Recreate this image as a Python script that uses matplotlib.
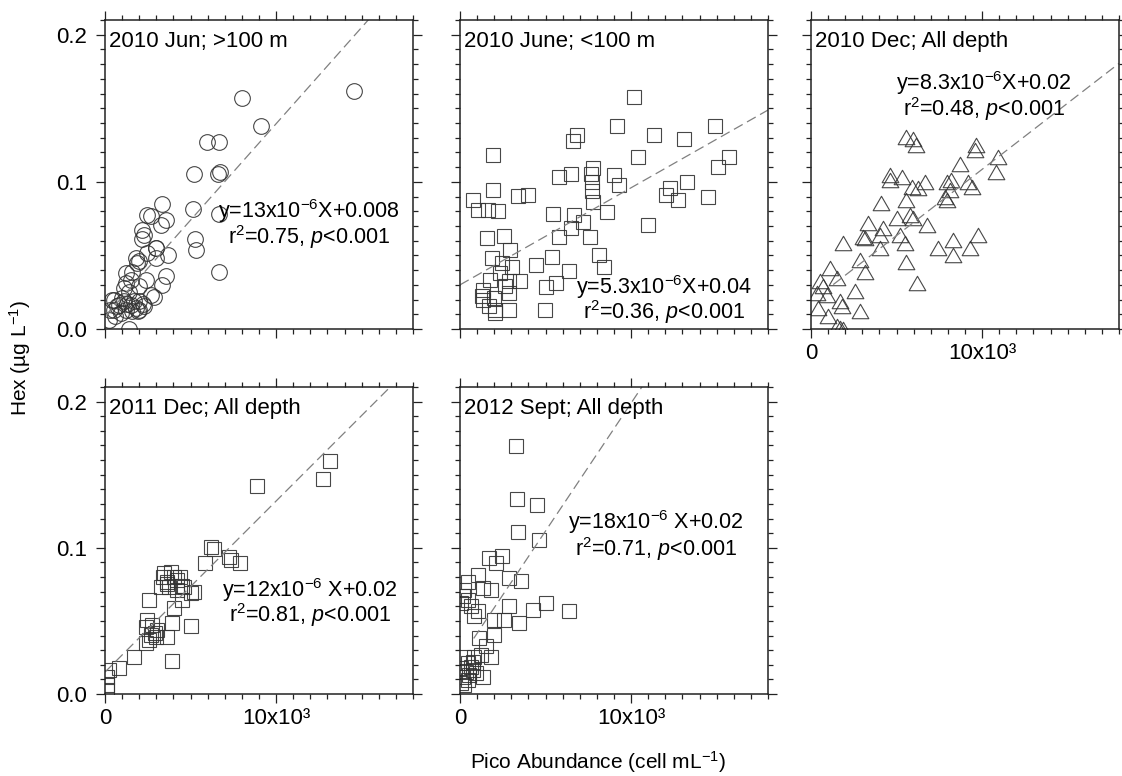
import matplotlib
matplotlib.use("Agg")
import matplotlib.pyplot as plt
from matplotlib.path import Path
from matplotlib.ticker import MultipleLocator, FixedLocator, FixedFormatter, NullFormatter

plt.rcParams["font.family"] = ["Liberation Sans", "DejaVu Sans"]
plt.rcParams["mathtext.fontset"] = "custom"
plt.rcParams["mathtext.rm"] = "Liberation Sans"
plt.rcParams["mathtext.it"] = "Liberation Sans:italic"
plt.rcParams["mathtext.default"] = "regular"
plt.rcParams["font.size"] = 16

# --- data (x: cells/mL, y: ug/L) ---
jun_deep_x = [14550, 7990, 9120, 5940, 6680, 5210, 6580, 6720, 5120, 6640, 5270, 5310, 6680,
              3360, 2680, 3550, 3260, 2190, 2190, 2970, 3710, 2480, 1800, 3550, 3360, 2680,
              1210, 1600, 1500, 2000, 1890, 1210, 430, 720, 1110, 1500, 1800, 2000, 2290,
              1210, 1600, 920, 530, 2000, 230, 1410, 2470, 2280, 3000, 2960, 1990, 2860, 530,
              800, 1300, 1700, 2200, 1000, 300, 600, 1900, 1400, 1100, 2400]
jun_deep_y = [0.1615, 0.157, 0.138, 0.127, 0.127, 0.1055, 0.1055, 0.107, 0.0815, 0.078, 0.061,
              0.054, 0.039, 0.085, 0.077, 0.074, 0.071, 0.0675, 0.061, 0.055, 0.0505, 0.0516,
              0.048, 0.0358, 0.030, 0.023, 0.038, 0.039, 0.0335, 0.029, 0.045, 0.031, 0.020,
              0.0154, 0.0188, 0.0165, 0.0143, 0.0188, 0.0154, 0.0131, 0.012, 0.0109, 0.013,
              0.013, 0.0063, 0.0, 0.0776, 0.064, 0.055, 0.0485, 0.046, 0.022, 0.0197,
              0.016, 0.017, 0.019, 0.017, 0.021, 0.013, 0.009, 0.012, 0.025, 0.028, 0.033]

jun_shallow_x = [10140, 9180, 6860, 6590, 11310, 13100, 14900, 15730, 15060, 10390, 1900, 9020,
                 9310, 7780, 7650, 6510, 5780, 7690, 7690, 7780, 12250, 12060, 12750, 13240,
                 14500, 10980, 8570, 5450, 6670, 7160, 6510, 5780, 7610, 8140, 8430, 5390, 6370,
                 5590, 5000, 4960, 4450, 780, 1040, 1630, 2200, 1900, 3390, 3960, 1570, 2590,
                 2940, 1860, 2450, 3040, 3530, 2840, 1730, 1370, 1270, 1960, 2840, 1370, 2060,
                 2060, 1670, 2840, 2650, 2310]
jun_shallow_y = [0.1576, 0.138, 0.132, 0.128, 0.132, 0.129, 0.1377, 0.117, 0.110, 0.117, 0.1185,
                 0.1045, 0.098, 0.1097, 0.1056, 0.1056, 0.103, 0.100, 0.094, 0.086, 0.0955, 0.091,
                 0.088, 0.100, 0.0898, 0.0707, 0.0797, 0.0779, 0.0774, 0.0725, 0.0684, 0.0628,
                 0.0628, 0.0503, 0.0424, 0.049, 0.0397, 0.031, 0.0284, 0.0131, 0.0436, 0.088,
                 0.0808, 0.0808, 0.080, 0.0948, 0.0903, 0.0914, 0.0616, 0.0634, 0.0537, 0.048,
                 0.0447, 0.0424, 0.0323, 0.0323, 0.0334, 0.0266, 0.0221, 0.021, 0.0244, 0.0199,
                 0.0131, 0.0108, 0.0153, 0.0131, 0.0289, 0.0379]

dec10_x = [5580, 5970, 6130, 9670, 9570, 10930, 10840, 8700, 4610, 4610, 5290, 6650, 5880, 6260,
           7920, 8210, 9180, 9380, 8110, 7820, 7920, 5580, 4120, 5000, 5780, 5970, 3350, 4220,
           6750, 3050, 3150, 4030, 5190, 5480, 1890, 4030, 7430, 8300, 8300, 9280, 9770, 5580,
           6170, 2860, 3150, 1110, 1500, 530, 720, 330, 910, 430, 2570, 1700, 1790, 2860, 1010,
           1500, 1700, 1890]
dec10_y = [0.1305, 0.129, 0.125, 0.125, 0.1214, 0.117, 0.1068, 0.1124, 0.1045, 0.101, 0.1034,
           0.100, 0.0966, 0.0955, 0.100, 0.101, 0.100, 0.0966, 0.0944, 0.0898, 0.0876, 0.0876,
           0.0853, 0.0752, 0.0774, 0.0752, 0.0718, 0.0684, 0.0707, 0.0628, 0.0616, 0.0639,
           0.0639, 0.0582, 0.0582, 0.0548, 0.0548, 0.0605, 0.0503, 0.0548, 0.0639, 0.0458,
           0.0312, 0.047, 0.039, 0.0413, 0.0345, 0.0323, 0.0289, 0.0244, 0.0233, 0.0142,
           0.0255, 0.0187, 0.0153, 0.012, 0.0086, 0.0018, 0.0007, 0.0]

dec11_x = [13140, 12750, 8870, 6180, 6370, 5830, 7250, 7350, 7880, 3840, 3450, 4030, 4230, 3650,
           3260, 3740, 4230, 4620, 5200, 5000, 4520, 4030, 2570, 3940, 5000, 2480, 2770, 3060,
           2670, 2960, 3650, 2380, 1700, 820, 230, 140, 140, 100, 3900,
           2400, 2900, 2600, 3600, 4500, 4400, 3400]
dec11_y = [0.1595, 0.1474, 0.1421, 0.1007, 0.0995, 0.0893, 0.0938, 0.0916, 0.0897, 0.0836,
           0.0825, 0.0802, 0.0779, 0.0768, 0.0733, 0.0733, 0.0711, 0.0733, 0.0699, 0.0688,
           0.0642, 0.0585, 0.0642, 0.0483, 0.0465, 0.0506, 0.0472, 0.0437, 0.0403, 0.0392,
           0.0392, 0.0346, 0.0255, 0.0175, 0.0164, 0.0118, 0.0062, 0.0027, 0.0228,
           0.046, 0.0415, 0.037, 0.075, 0.074, 0.080, 0.080]

sep12_x = [3270, 3330, 4500, 3410, 4640, 1720, 2440, 2110, 1030, 2880, 3570, 450, 1330, 1810,
           2880, 4250, 5030, 6350, 3470, 2590, 2000, 1030, 640, 250, 160, 60, 450, 840, 2000,
           1520, 1130, 1810, 1230, 940, 1330, 450, 250, 450, 60, 350, 640, 740, 160, 550, 60,
           840, 250, 740]
sep12_y = [0.1698, 0.1332, 0.129, 0.1108, 0.1053, 0.0931, 0.0947, 0.0897, 0.0817, 0.0794,
           0.0776, 0.0764, 0.0725, 0.0714, 0.060, 0.0577, 0.0622, 0.0565, 0.0485, 0.0508,
           0.0508, 0.0565, 0.060, 0.0714, 0.0668, 0.0622, 0.0645, 0.0531, 0.0405, 0.0325,
           0.0382, 0.0256, 0.0268, 0.0142, 0.0119, 0.0096, 0.0256, 0.021, 0.0176, 0.0153,
           0.0188, 0.0222, 0.0119, 0.013, 0.0073, 0.0256, 0.0062, 0.0165]

titles = ["2010 Jun; >100 m", "2010 June; <100 m", "2010 Dec; All depth",
          "2011 Dec; All depth", "2012 Sept; All depth"]
eq_text = [r"y=13x10$^{-6}$X+0.008", r"y=5.3x10$^{-6}$X+0.04", r"y=8.3x10$^{-6}$X+0.02",
           r"y=12x10$^{-6}$ X+0.02", r"y=18x10$^{-6}$ X+0.02"]
r2_text = [r"r$^2$=0.75, $\mathit{p}$<0.001", r"r$^2$=0.36, $\mathit{p}$<0.001",
           r"r$^2$=0.48, $\mathit{p}$<0.001", r"r$^2$=0.81, $\mathit{p}$<0.001",
           r"r$^2$=0.71, $\mathit{p}$<0.001"]

# fitted lines as drawn in the picture
fit_slope = [13.1e-6, 6.6e-6, 9.0e-6, 11.7e-6, 17.5e-6]
fit_icpt = [0.0085, 0.030, 0.0185, 0.015, 0.024]
fit_start = [0, 0, 1300, 0, 800]

xs = [jun_deep_x, jun_shallow_x, dec10_x, dec11_x, sep12_x]
ys = [jun_deep_y, jun_shallow_y, dec10_y, dec11_y, sep12_y]

tri = Path([(-1, -0.866), (1, -0.866), (0, 0.866), (-1, -0.866)],
           [Path.MOVETO, Path.LINETO, Path.LINETO, Path.CLOSEPOLY])
markers = [("o", 11.3), ("s", 10.3), (tri, 12), ("s", 10.3), ("s", 10.3)]

# layout (pixels of a 1122x776 canvas)
W, H = 1122, 776
lefts = [105, 460, 811, 105, 460]
tops = [20, 20, 20, 387, 387]
bottoms = [329, 329, 329, 694, 694]
eq_pos = [(0.662, 0.0754, 0.0578), (0.662, 0.0240, 0.0068), (0.561, 0.1625, 0.1450),
          (0.666, 0.0665, 0.0490), (0.636, 0.1126, 0.0943)]
show_xlab = [False, False, True, True, True]
show_ylab = [True, False, False, True, False]

fig = plt.figure(figsize=(11.22, 7.76), dpi=100)

for i in range(5):
    ax = fig.add_axes([lefts[i] / W, 1 - bottoms[i] / H, 308 / W, (bottoms[i] - tops[i]) / H])
    mk, ms = markers[i]
    ax.plot(xs[i], ys[i], linestyle="none", marker=mk, markersize=ms,
            markerfacecolor="none", markeredgecolor="#333333", markeredgewidth=0.8, alpha=0.9)
    lx = [fit_start[i], 18000]
    ly = [fit_icpt[i] + fit_slope[i] * v for v in lx]
    ax.plot(lx, ly, color="#808080", linewidth=0.9, dashes=[8, 4])

    ax.set_xlim(0, 18000)
    ax.set_ylim(0, 0.21)
    ax.xaxis.set_major_locator(FixedLocator([0, 10000]))
    ax.xaxis.set_minor_locator(MultipleLocator(1000))
    ax.yaxis.set_major_locator(FixedLocator([0, 0.1, 0.2]))
    ax.yaxis.set_minor_locator(MultipleLocator(0.01))
    if show_xlab[i]:
        ax.xaxis.set_major_formatter(FixedFormatter(["0", "10x10³"]))
    else:
        ax.xaxis.set_major_formatter(NullFormatter())
    if show_ylab[i]:
        ax.yaxis.set_major_formatter(FixedFormatter(["0.0", "0.1", "0.2"]))
    else:
        ax.yaxis.set_major_formatter(NullFormatter())
    ax.tick_params(which="both", direction="out", top=True, right=True, width=0.9, color="#222222")
    ax.tick_params(which="major", length=6.5, labelsize=16)
    ax.tick_params(which="minor", length=3.3)
    ax.tick_params(axis="y", pad=6.5)
    ax.tick_params(axis="x", pad=3.5)
    for s in ax.spines.values():
        s.set_linewidth(1.1)
        s.set_color("#222222")

    tr = ax.get_yaxis_transform()
    ax.text(0.012, 0.1915, titles[i], transform=tr, fontsize=16, va="baseline", ha="left")
    ex, e1, e2 = eq_pos[i]
    ax.text(ex, e1, eq_text[i], transform=tr, fontsize=15.5, va="baseline", ha="center")
    ax.text(ex, e2, r2_text[i], transform=tr, fontsize=15.5, va="baseline", ha="center")

fig.text(20 / W, 1 - 358 / H, r"Hex (µg L$^{-1}$)", rotation=90, ha="center", va="center", fontsize=15)
fig.text(598 / W, 1 - 762 / H, r"Pico Abundance (cell mL$^{-1}$)", ha="center", va="center", fontsize=15)

fig.savefig("out.png", dpi=100)
